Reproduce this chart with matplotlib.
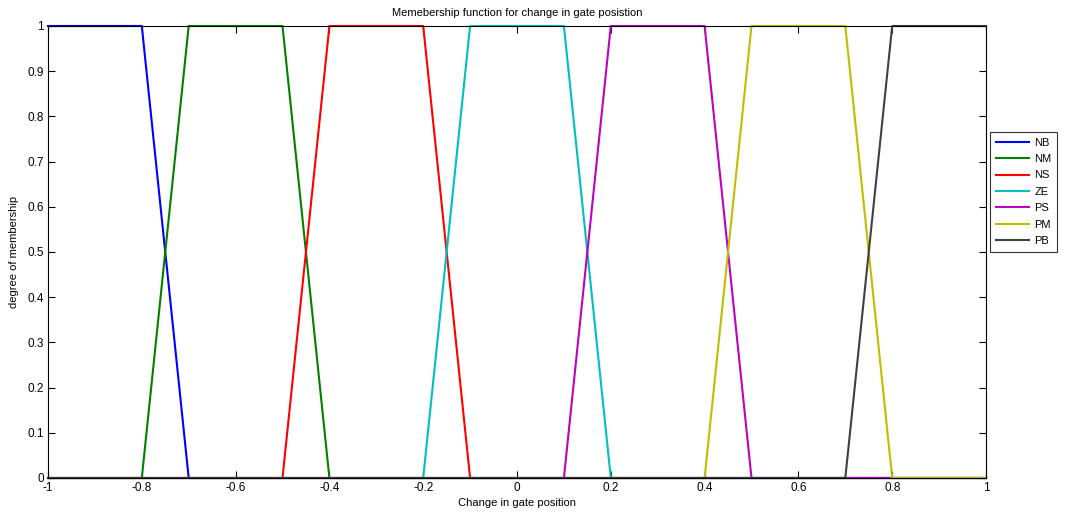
import matplotlib
matplotlib.use("Agg")
import matplotlib.pyplot as plt
import numpy as np

plt.rcParams['font.family'] = ['Liberation Sans', 'DejaVu Sans']

labels = ["NB", "NM", "NS", "ZE", "PS", "PM", "PB"]
nb_x = [-1, -0.8, -0.7, 1];            nb_y = [1, 1, 0, 0]
nm_x = [-1, -0.8, -0.7, -0.5, -0.4, 1]; nm_y = [0, 0, 1, 1, 0, 0]
ns_x = [-1, -0.5, -0.4, -0.2, -0.1, 1]; ns_y = [0, 0, 1, 1, 0, 0]
ze_x = [-1, -0.2, -0.1, 0.1, 0.2, 1];   ze_y = [0, 0, 1, 1, 0, 0]
ps_x = [-1, 0.1, 0.2, 0.4, 0.5, 1];     ps_y = [0, 0, 1, 1, 0, 0]
pm_x = [-1, 0.4, 0.5, 0.7, 0.8, 1];     pm_y = [0, 0, 1, 1, 0, 0]
pb_x = [-1, 0.7, 0.8, 1];               pb_y = [0, 0, 1, 1]

series_x = [nb_x, nm_x, ns_x, ze_x, ps_x, pm_x, pb_x]
series_y = [nb_y, nm_y, ns_y, ze_y, ps_y, pm_y, pb_y]
colors = [(0, 0, 1), (0, 0.5, 0), (1, 0, 0), (0, 0.75, 0.75),
          (0.75, 0, 0.75), (0.75, 0.75, 0), (0.25, 0.25, 0.25)]

fig = plt.figure(figsize=(10.66, 5.14), dpi=100)
ax = fig.add_axes([48/1066, 1-478/514, (986-48)/1066, (478-26)/514])

for xs, ys, c, lab in zip(series_x, series_y, colors, labels):
    ax.plot(xs, ys, color=c, lw=1.5, label=lab, clip_on=False)

ax.set_xlim(-1, 1)
ax.set_ylim(0, 1)
ax.set_xticks(np.arange(-1, 1.01, 0.2))
ax.set_xticklabels(["-1", "-0.8", "-0.6", "-0.4", "-0.2", "0", "0.2", "0.4", "0.6", "0.8", "1"])
ax.set_yticks(np.arange(0, 1.01, 0.1))
ax.set_yticklabels(["0", "0.1", "0.2", "0.3", "0.4", "0.5", "0.6", "0.7", "0.8", "0.9", "1"])
ax.tick_params(direction='in', top=True, right=True, labelsize=8.5, length=5, width=0.8, pad=3)
for s in ax.spines.values():
    s.set_linewidth(0.8)
ax.set_title("Memebership function for change in gate posistion", fontsize=8, pad=7)
ax.set_xlabel("Change in gate position", fontsize=8, labelpad=3)
ax.set_ylabel("degree of membership", fontsize=8, labelpad=6)

leg = ax.legend(loc='upper left', bbox_to_anchor=(990/1066, 1-132/514), bbox_transform=fig.transFigure,
                fontsize=8, frameon=True, fancybox=False, edgecolor='black', handlelength=3.0,
                labelspacing=0.58, borderpad=0.5, handletextpad=0.5, borderaxespad=0)
leg.get_frame().set_linewidth(0.8)

fig.savefig("out.png", dpi=100)
